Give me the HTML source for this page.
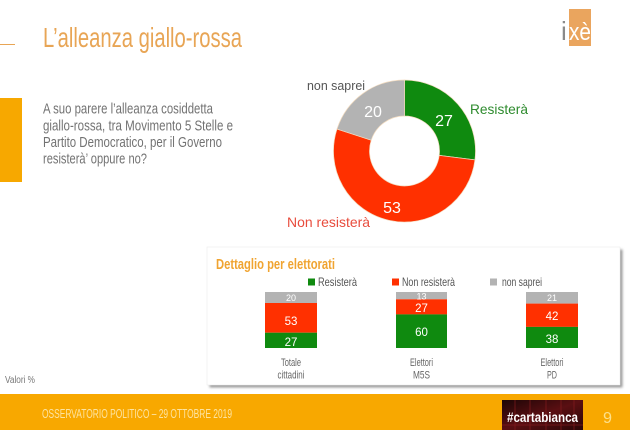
<!DOCTYPE html>
<html>
<head>
<meta charset="utf-8">
<style>
  html, body { margin: 0; padding: 0; background: #ffffff; }
  svg { display: block; }
  text { font-family: "Liberation Sans", "DejaVu Sans", sans-serif; }
</style>
</head>
<body>
<svg width="630" height="430" viewBox="0 0 630 430" xmlns="http://www.w3.org/2000/svg">
  <defs>
    <filter id="sh" x="-5%" y="-5%" width="110%" height="115%">
      <feGaussianBlur stdDeviation="1.4"/>
    </filter>
    <linearGradient id="cb" x1="0" y1="0" x2="1" y2="1">
      <stop offset="0" stop-color="#1c0506"/>
      <stop offset="0.5" stop-color="#5a0f12"/>
      <stop offset="1" stop-color="#2a0708"/>
    </linearGradient>
  </defs>

  <rect x="0" y="0" width="630" height="430" fill="#ffffff"/>

  <!-- Title -->
  <line x1="0" y1="44.5" x2="15" y2="44.5" stroke="#e8a555" stroke-width="1"/>
  <text x="43" y="47" font-size="28" fill="#e8a555" textLength="199" lengthAdjust="spacingAndGlyphs">L’alleanza giallo-rossa</text>

  <!-- Logo -->
  <rect x="569" y="9" width="22" height="37" fill="#eaa55e"/>
  <text x="561" y="40" font-family="Liberation Serif, serif" font-size="26" fill="#8a8a8a">i</text>
  <text x="569" y="40" font-family="Liberation Serif, serif" font-size="24" fill="#ffffff" textLength="22" lengthAdjust="spacingAndGlyphs">xè</text>

  <!-- Left bar -->
  <rect x="0" y="98" width="22" height="84" fill="#f7a800"/>

  <!-- Question -->
  <g font-size="15" fill="#727272">
    <text x="43" y="113.5" textLength="170" lengthAdjust="spacingAndGlyphs">A suo parere l’alleanza cosiddetta</text>
    <text x="43" y="130.5" textLength="190" lengthAdjust="spacingAndGlyphs">giallo-rossa, tra Movimento 5 Stelle e</text>
    <text x="43" y="147" textLength="179" lengthAdjust="spacingAndGlyphs">Partito Democratico, per il Governo</text>
    <text x="43" y="163.5" textLength="104" lengthAdjust="spacingAndGlyphs">resisterà’ oppure no?</text>
  </g>

  <!-- Donut -->
  <g stroke="#f3dcc0" stroke-width="0.7">
    <path d="M404.5,80 A71,71 0 0 1 474.94,159.90 L439.22,155.39 A35,35 0 0 0 404.5,116 Z" fill="#0f8a0f"/>
    <path d="M474.94,159.90 A71,71 0 1 1 336.98,129.06 L371.21,140.18 A35,35 0 1 0 439.22,155.39 Z" fill="#ff3000"/>
    <path d="M336.98,129.06 A71,71 0 0 1 404.5,80 L404.5,116 A35,35 0 0 0 371.21,140.18 Z" fill="#b3b3b3"/>
  </g>
  <g font-size="16" fill="#ffffff" text-anchor="middle">
    <text x="444" y="126">27</text>
    <text x="373" y="117">20</text>
    <text x="392" y="213">53</text>
  </g>
  <text x="307" y="90" font-size="13" fill="#555555" textLength="58" lengthAdjust="spacingAndGlyphs">non saprei</text>
  <text x="470" y="114" font-size="14" fill="#2e8b2e" textLength="58" lengthAdjust="spacingAndGlyphs">Resisterà</text>
  <text x="287" y="227" font-size="14" fill="#e84c3d" textLength="83" lengthAdjust="spacingAndGlyphs">Non resisterà</text>

  <!-- Detail panel -->
  <rect x="209.5" y="249.5" width="413" height="138" fill="#9a9a9a" filter="url(#sh)"/>
  <rect x="207" y="247" width="413" height="138" fill="#ffffff" stroke="#ececec" stroke-width="0.6"/>
  <text x="216" y="269" font-size="15" font-weight="bold" fill="#f0a431" textLength="119" lengthAdjust="spacingAndGlyphs">Dettaglio per elettorati</text>

  <!-- Legend -->
  <rect x="308" y="278.5" width="7" height="7" fill="#0f8a0f"/>
  <text x="318" y="286" font-size="12" fill="#555555" textLength="39" lengthAdjust="spacingAndGlyphs">Resisterà</text>
  <rect x="392" y="278.5" width="7" height="7" fill="#ff3000"/>
  <text x="402" y="286" font-size="12" fill="#555555" textLength="53" lengthAdjust="spacingAndGlyphs">Non resisterà</text>
  <rect x="490" y="278.5" width="7" height="7" fill="#b3b3b3"/>
  <text x="502" y="286" font-size="12" fill="#555555" textLength="40" lengthAdjust="spacingAndGlyphs">non saprei</text>

  <!-- Bars -->
  <g>
    <rect x="265" y="292" width="52" height="11" fill="#b3b3b3"/>
    <rect x="265" y="303" width="52" height="29.7" fill="#ff3000"/>
    <rect x="265" y="332.7" width="52" height="15.3" fill="#0f8a0f"/>

    <rect x="396" y="292" width="51" height="7.3" fill="#b3b3b3"/>
    <rect x="396" y="299.3" width="51" height="15.1" fill="#ff3000"/>
    <rect x="396" y="314.4" width="51" height="33.6" fill="#0f8a0f"/>

    <rect x="526" y="292" width="52" height="11.6" fill="#b3b3b3"/>
    <rect x="526" y="303.6" width="52" height="23.3" fill="#ff3000"/>
    <rect x="526" y="326.9" width="52" height="21.1" fill="#0f8a0f"/>
  </g>
  <g fill="#ffffff" text-anchor="middle">
    <text x="291" y="301" font-size="9">20</text>
    <text x="291" y="325" font-size="11.5">53</text>
    <text x="291" y="346" font-size="11.5">27</text>

    <text x="421.5" y="299.5" font-size="9">13</text>
    <text x="421.5" y="312" font-size="11.5">27</text>
    <text x="421.5" y="336" font-size="11.5">60</text>

    <text x="552" y="301" font-size="9">21</text>
    <text x="552" y="320" font-size="11.5">42</text>
    <text x="552" y="343" font-size="11.5">38</text>
  </g>

  <!-- Category labels -->
  <g font-size="11" fill="#666666">
    <text x="281" y="366" textLength="20" lengthAdjust="spacingAndGlyphs">Totale</text>
    <text x="277.5" y="378.5" textLength="27" lengthAdjust="spacingAndGlyphs">cittadini</text>
    <text x="410" y="366" textLength="23" lengthAdjust="spacingAndGlyphs">Elettori</text>
    <text x="413" y="378.5" textLength="17" lengthAdjust="spacingAndGlyphs">M5S</text>
    <text x="540.5" y="366" textLength="23" lengthAdjust="spacingAndGlyphs">Elettori</text>
    <text x="547" y="378.5" textLength="10" lengthAdjust="spacingAndGlyphs">PD</text>
  </g>

  <text x="5" y="383" font-size="10" fill="#777777" textLength="30" lengthAdjust="spacingAndGlyphs">Valori %</text>

  <!-- Footer -->
  <rect x="0" y="394" width="630" height="36" fill="#f8a800"/>
  <text x="42" y="418" font-size="13" fill="#fde3a0" textLength="190" lengthAdjust="spacingAndGlyphs">OSSERVATORIO POLITICO – 29 OTTOBRE 2019</text>

  <rect x="502" y="400" width="81" height="30" fill="url(#cb)"/>
  <g stroke="#8a1d20" stroke-width="0.8" opacity="0.8">
    <line x1="515" y1="400" x2="515" y2="430"/>
    <line x1="530" y1="400" x2="530" y2="430"/>
    <line x1="546" y1="400" x2="546" y2="430"/>
    <line x1="561" y1="400" x2="561" y2="430"/>
    <line x1="574" y1="400" x2="574" y2="430"/>
    <line x1="502" y1="425" x2="583" y2="425"/>
  </g>
  <text x="507" y="422" font-size="14" font-weight="bold" fill="#ffffff" textLength="71" lengthAdjust="spacingAndGlyphs">#cartabianca</text>

  <text x="603" y="423" font-size="16" fill="#fde08a" textLength="9" lengthAdjust="spacingAndGlyphs">9</text>
</svg>
</body>
</html>
